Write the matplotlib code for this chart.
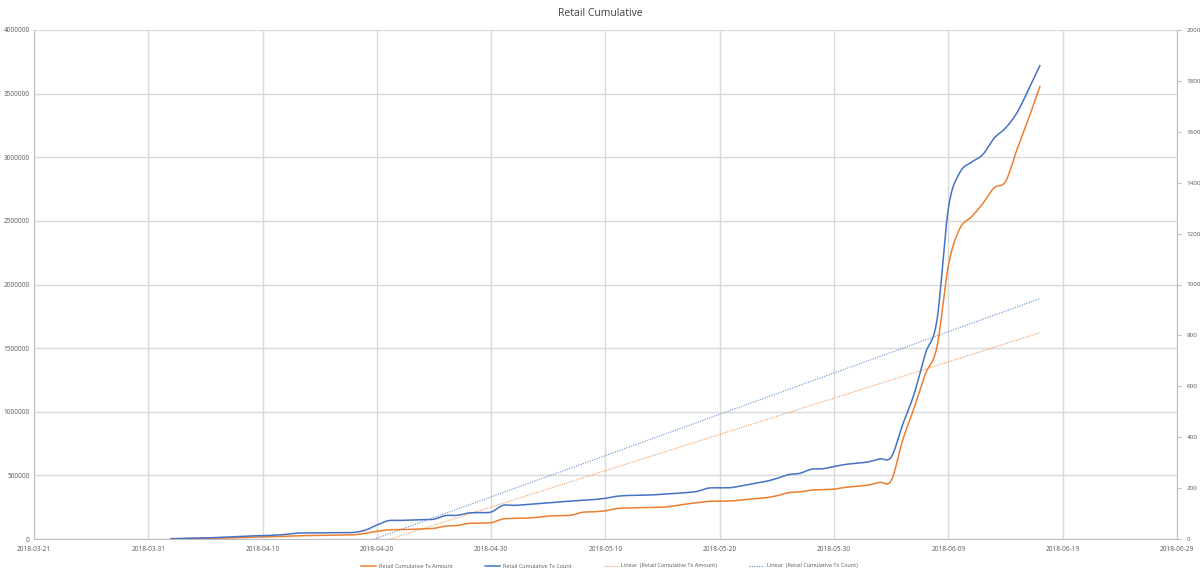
import numpy as np
import pandas as pd
import matplotlib
matplotlib.use("Agg")
import matplotlib.pyplot as plt
import matplotlib.dates as mdates

plt.rcParams['font.family'] = ['Open Sans', 'DejaVu Sans']

title = "Retail Cumulative"
start_date = "2018-04-02"
end_date = "2018-06-17"

# Daily cumulative values, 2018-04-02 .. 2018-06-17
tx_amount = [
    2000, 3000, 4000, 5000, 6000, 8000, 10000,
    14000, 16000, 19000, 22000, 25000, 27000, 28000, 30000, 31000, 33000,
    45000, 60000, 72000, 74000, 76000, 80000, 84000, 101000, 106000, 122000, 125000, 128000,
    157000, 162000, 163000, 170000, 180000, 184000, 187000, 210000, 214000, 222000,
    240000, 244000, 246000, 248000, 250000, 260000, 274000, 285000, 296000, 297000,
    299000, 308000, 316000, 324000, 340000, 364000, 370000, 384000, 388000, 392000,
    406000, 414000, 424000, 445000, 460000,
    777000, 1030000, 1300000, 1510000, 2150000,
    2440000, 2530000, 2635000, 2760000, 2810000, 3060000, 3300000, 3555000,
]
tx_count = [
    1, 2, 3, 4, 6, 8, 10,
    12, 13, 15, 18, 23, 24, 24, 25, 25, 26,
    35, 55, 72, 73, 75, 76, 78, 92, 93, 102, 104, 106,
    132, 132, 135, 138, 142, 146, 149, 152, 155, 160,
    168, 171, 172, 173, 176, 179, 182, 187, 200, 201,
    202, 210, 218, 226, 238, 253, 258, 274, 276, 285,
    293, 298, 303, 315, 322,
    450, 570, 730, 860, 1300,
    1440, 1480, 1510, 1575, 1615, 1675, 1765, 1860,
]

dates = pd.date_range(start_date, end_date, freq="D")
n = min(len(dates), len(tx_amount), len(tx_count))
dates = dates[:n]
tx_amount = np.array(tx_amount[:n], dtype=float)
tx_count = np.array(tx_count[:n], dtype=float)

xnum = mdates.date2num(dates)
pa = np.polyfit(xnum, tx_amount, 1)
pc = np.polyfit(xnum, tx_count, 1)
xe = np.array([xnum[0], xnum[-1]])


def smooth_path(x, y, steps=12):
    """Excel-style smoothed line rendering (cubic Bezier, tension 1/6)."""
    x = np.asarray(x, float)
    y = np.asarray(y, float)
    px = np.concatenate([[x[0]], x, [x[-1]]])
    py = np.concatenate([[y[0]], y, [y[-1]]])
    t = np.linspace(0, 1, steps, endpoint=False)
    xs, ys = [], []
    for i in range(1, len(px) - 2):
        p0x, p0y = px[i], py[i]
        p3x, p3y = px[i + 1], py[i + 1]
        c1x = p0x + (px[i + 1] - px[i - 1]) / 6
        c1y = p0y + (py[i + 1] - py[i - 1]) / 6
        c2x = p3x - (px[i + 2] - px[i]) / 6
        c2y = p3y - (py[i + 2] - py[i]) / 6
        b0 = (1 - t) ** 3
        b1 = 3 * (1 - t) ** 2 * t
        b2 = 3 * (1 - t) * t ** 2
        b3 = t ** 3
        xs.append(b0 * p0x + b1 * c1x + b2 * c2x + b3 * p3x)
        ys.append(b0 * p0y + b1 * c1y + b2 * c2y + b3 * p3y)
    xs.append([x[-1]])
    ys.append([y[-1]])
    return np.concatenate(xs), np.concatenate(ys)


c_orange = "#ED7D31"
c_blue = "#4472C4"
grid_c = "#D9D9D9"
txt_c = "#595959"

fig = plt.figure(figsize=(12, 5.79), dpi=100)
ax = fig.add_axes([34/1200, 1 - 539/579, (1177-34)/1200, (539-30)/579])
ax2 = ax.twinx()

sxa, sya = smooth_path(xnum, tx_amount)
sxc, syc = smooth_path(xnum, tx_count)

l1, = ax.plot(sxa, sya, color=c_orange, lw=1.1, label="Retail Cumulative Tx Amount")
l3, = ax.plot(xe, np.polyval(pa, xe), color=c_orange, lw=0.8, ls=(0, (1, 1.2)),
              alpha=0.8, label="Linear  (Retail Cumulative Tx Amount)")
l2, = ax2.plot(sxc, syc, color=c_blue, lw=1.1, label="Retail Cumulative Tx Count")
l4, = ax2.plot(xe, np.polyval(pc, xe), color=c_blue, lw=0.8, ls=(0, (1, 1.2)),
               alpha=0.8, label="Linear  (Retail Cumulative Tx Count)")

ax.set_xlim(mdates.date2num(pd.Timestamp("2018-03-21")), mdates.date2num(pd.Timestamp("2018-06-29")))
ax.set_ylim(0, 4000000)
ax2.set_ylim(0, 2000)
ax.set_yticks(np.arange(0, 4000001, 500000))
ax2.set_yticks(np.arange(0, 2001, 200))
ax.yaxis.set_major_formatter(matplotlib.ticker.FuncFormatter(lambda v, p: f"{int(v)}"))
ax.set_xticks(mdates.date2num(pd.date_range("2018-03-21", "2018-06-29", freq="10D")))
ax.xaxis.set_major_formatter(mdates.DateFormatter("%Y-%m-%d"))

ax.grid(True, color=grid_c, lw=1.0)
ax.set_axisbelow(True)
for a in (ax, ax2):
    for s in a.spines.values():
        s.set_visible(False)
ax.spines['left'].set_visible(True)
ax.spines['left'].set_color("#BFBFBF")
ax.spines['bottom'].set_visible(True)
ax.spines['bottom'].set_color("#BFBFBF")
ax2.spines['right'].set_visible(True)
ax2.spines['right'].set_color("#BFBFBF")

ax.tick_params(axis='both', length=0, labelsize=4.7, labelcolor=txt_c, pad=3)
ax.tick_params(axis='x', pad=5)
ax2.tick_params(axis='y', length=3, color="#BFBFBF", labelsize=4.5, labelcolor=txt_c, pad=4)

fig.text(0.5, 1 - 14/579, title, ha='center', va='center', fontsize=7.5, color="#404040")

fig.legend(handles=[l1, l2, l3, l4], loc='center', bbox_to_anchor=(0.508, 1 - 566/579),
           ncol=4, frameon=False, fontsize=4, labelcolor=txt_c, handlelength=2.7,
           columnspacing=5.8, handletextpad=0.5)

fig.savefig("out.png", dpi=100)
